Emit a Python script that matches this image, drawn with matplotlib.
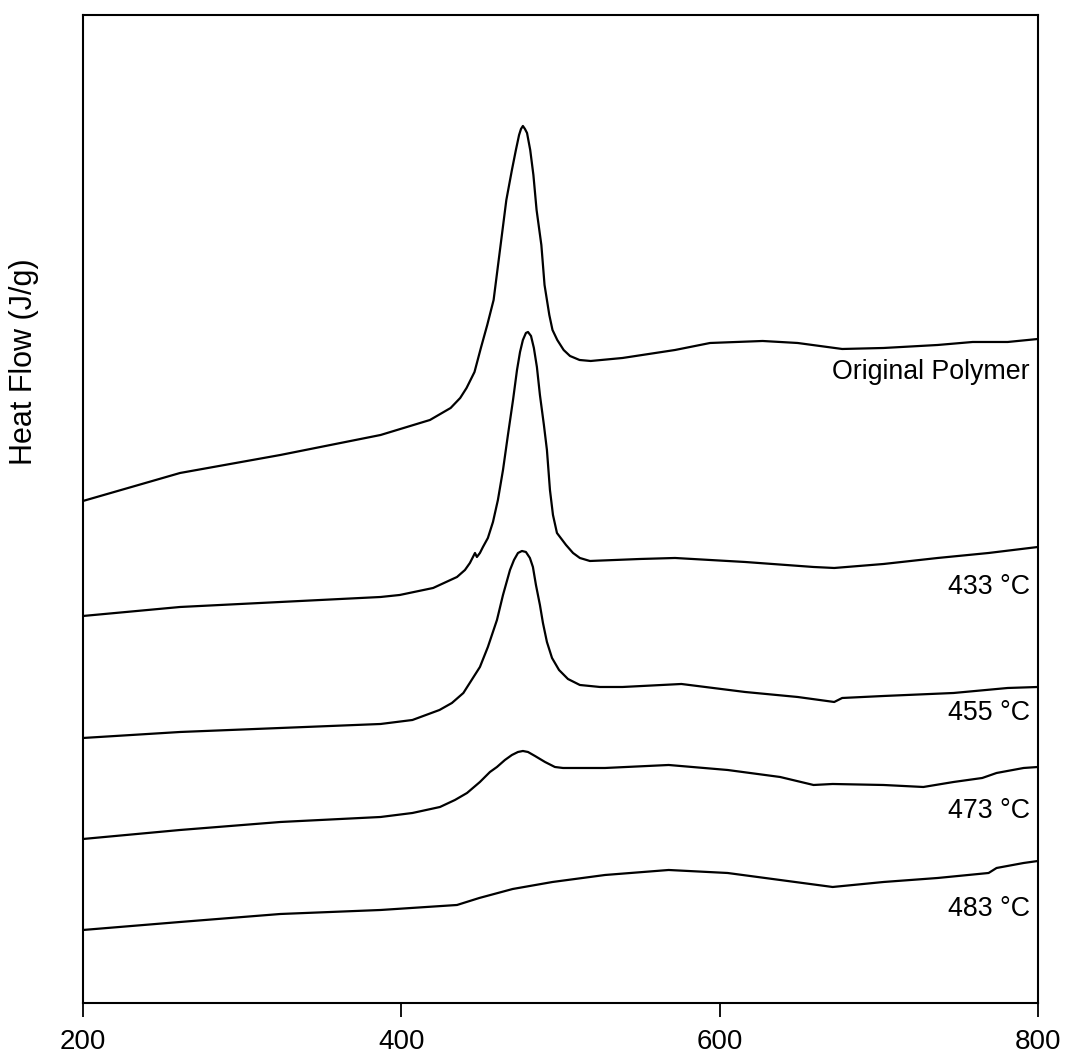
# DSC curves of original polymer and residues after heating

import matplotlib.pyplot as plt

plt.rcParams['font.family'] = ['Liberation Sans', 'DejaVu Sans']

#%% data (temperature in degC, heat flow in arbitrary offset units)

t_orig = [200, 261, 324, 387, 418, 431, 437, 441, 446, 450, 454, 458, 462, 466, 469.5,
          472, 474, 475.2, 476.4, 477.7, 479, 481, 483, 485, 488, 490, 493, 495, 498, 502,
          506, 512, 519, 539, 572, 594, 627, 649, 677, 703, 737, 759, 781, 800]
hf_orig = [50.2, 53.0, 54.8, 56.8, 58.3, 59.5, 60.5, 61.5, 63.1, 65.5, 67.8, 70.3, 75.3, 80.3, 83.3,
           85.3, 86.8, 87.4, 87.7, 87.4, 87.0, 85.3, 82.8, 79.3, 75.8, 71.8, 68.8, 67.3, 66.3, 65.3,
           64.7, 64.3, 64.2, 64.5, 65.3, 66.0, 66.2, 66.0, 65.4, 65.5, 65.8, 66.1, 66.1, 66.4]

t_433 = [200, 261, 324, 387, 399, 420, 435, 440, 443.1, 446.3, 447.5, 449.4, 451.3, 454.4, 457.6,
         460.7, 463.9, 467, 470.2, 472.7, 474.6, 476.4, 478.3, 479.6, 481.5, 483.3, 485.2, 487.1, 489.6, 491.5,
         493.4, 495.3, 497.8, 503.5, 507.9, 512.2, 518.5, 550, 572, 616, 659, 672, 703, 737, 769, 800]
hf_433 = [38.7, 39.6, 40.1, 40.6, 40.8, 41.5, 42.6, 43.3, 44.0, 45.0, 44.6, 45.0, 45.6, 46.5, 48.1,
          50.3, 53.3, 56.8, 60.3, 63.3, 65.1, 66.3, 67.0, 67.1, 66.7, 65.5, 63.6, 60.8, 57.8, 55.3,
          51.3, 48.8, 47.0, 45.8, 45.0, 44.5, 44.2, 44.4, 44.5, 44.1, 43.6, 43.5, 43.9, 44.5, 45.0, 45.6]

t_455 = [200, 261, 324, 387, 407, 424, 431.8, 439, 449.4, 454.4, 460.1, 463.9, 468.3, 470.8, 473.3,
         475.8, 478.3, 480.8, 482.7, 484.6, 487.1, 489, 491.5, 494.7, 499.1, 504.7, 512.2, 524.8, 539, 576,
         616, 649, 672, 677, 703, 747, 781, 800]
hf_455 = [26.5, 27.1, 27.5, 27.9, 28.3, 29.3, 30.0, 31.0, 33.6, 35.6, 38.3, 40.8, 43.3, 44.3, 45.0,
          45.2, 45.1, 44.5, 43.6, 41.8, 39.8, 38.0, 36.1, 34.5, 33.3, 32.4, 31.8, 31.6, 31.6, 31.9,
          31.1, 30.6, 30.1, 30.5, 30.7, 31.0, 31.5, 31.6]

t_473 = [200, 261, 324, 387, 407, 424.3, 433.7, 441.3, 449.4, 455.7, 460.1, 465.1, 469.5, 473.3, 476.4,
         479.6, 484, 490.3, 496.5, 501.6, 528, 568, 605, 638, 659, 671, 703, 728, 747, 765,
         774, 791, 800]
hf_473 = [16.4, 17.3, 18.1, 18.6, 19.0, 19.6, 20.3, 21.0, 22.1, 23.1, 23.6, 24.3, 24.8, 25.1, 25.2,
          25.1, 24.7, 24.1, 23.6, 23.5, 23.5, 23.8, 23.3, 22.6, 21.8, 21.9, 21.8, 21.6, 22.1, 22.5,
          23.0, 23.5, 23.6]

t_483 = [200, 261, 324, 387, 435, 449, 470, 495, 528, 568, 605, 638, 671, 703, 737,
         769, 774, 791, 800]
hf_483 = [7.3, 8.1, 8.9, 9.3, 9.8, 10.5, 11.4, 12.1, 12.8, 13.3, 13.0, 12.3, 11.6, 12.1, 12.5,
          13.0, 13.5, 14.0, 14.2]

labels = ['Original Polymer', '433 °C', '455 °C', '473 °C', '483 °C']
label_y = [63.1, 41.6, 29.0, 19.2, 9.4]

#%% plot

fig = plt.figure(figsize=(10.65, 10.55), dpi=100)
ax = fig.add_axes([0.0779, 0.0493, 0.8967, 0.9365])

for t, hf in [(t_orig, hf_orig), (t_433, hf_433), (t_455, hf_455), (t_473, hf_473), (t_483, hf_483)]:
    ax.plot(t, hf, color='black', lw=1.6)

for lab, yy in zip(labels, label_y):
    ax.text(795, yy, lab, ha='right', va='center', fontsize=19.3)

ax.set_xlim(200, 800)
ax.set_ylim(0, 98.8)
ax.set_xticks([200, 400, 600, 800])
ax.set_yticks([])
ax.tick_params(axis='x', direction='out', length=10, width=1.3, labelsize=20, pad=9)
for s in ax.spines.values():
    s.set_linewidth(1.5)

ax.set_ylabel('Heat Flow (J/g)', fontsize=22)
ax.yaxis.set_label_coords(-0.046, 0.649)

plt.savefig('out.png')
